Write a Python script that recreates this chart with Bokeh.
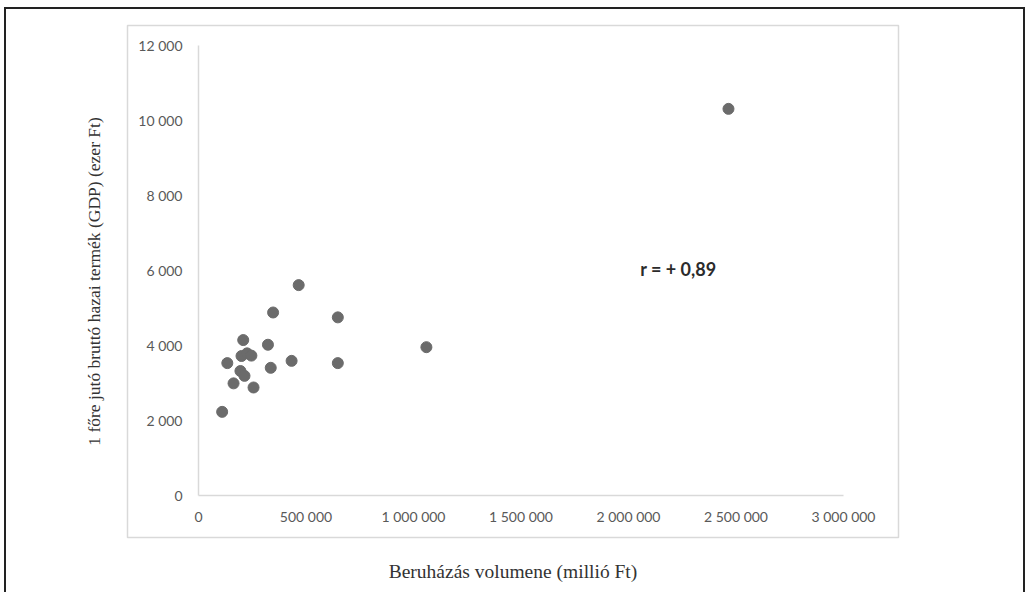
from bokeh.plotting import figure
from bokeh.models import Range1d, FixedTicker, LinearAxis, Label, ColumnDataSource, InlineStyleSheet
from bokeh.embed import file_html
from bokeh.resources import INLINE

# ---- data ----
invest = [466000, 347000, 648000, 208000, 323000, 1060000, 134000,
          200000, 226000, 246000, 433000, 648000, 336000, 195000,
          214000, 163000, 256000, 110000, 2465000]
gdp = [5610, 4880, 4750, 4145, 4020, 3955, 3530,
       3720, 3790, 3730, 3590, 3530, 3405, 3320,
       3190, 2990, 2880, 2230, 10310]

x_ticks = [0, 500000, 1000000, 1500000, 2000000, 2500000, 3000000]
x_tick_labels = ["0", "500 000", "1 000 000", "1 500 000", "2 000 000", "2 500 000", "3 000 000"]
y_ticks = [0, 2000, 4000, 6000, 8000, 10000, 12000]
y_tick_labels = ["0", "2 000", "4 000", "6 000", "8 000", "10 000", "12 000"]

x_title = "Beruházás volumene (millió Ft)"
y_title = "1 főre jutó bruttó hazai termék (GDP) (ezer Ft)"
r_text = "r = + 0,89"
r_x, r_y = 2232000, 6050

# ---- figure ----
W, H = 1026, 592
p = figure(width=W, height=H, output_backend="svg", toolbar_location=None,
           x_range=Range1d(-330233, 3255814), y_range=Range1d(-1120, 12533.3),
           min_border_left=127, min_border_right=128, min_border_top=25, min_border_bottom=55)

p.xgrid.visible = False
p.ygrid.visible = False
p.outline_line_color = "#d9d9d9"
p.outline_line_width = 1.5
p.background_fill_color = "white"
p.border_fill_color = "white"

AX = "#d9d9d9"
LBL = "#595959"

xa = p.xaxis[0]
xa.fixed_location = 0
xa.bounds = (0, 3000000)
xa.ticker = FixedTicker(ticks=x_ticks)
xa.major_label_overrides = dict(zip(x_ticks, x_tick_labels))
ya = p.yaxis[0]
ya.fixed_location = 0
ya.bounds = (0, 12000)
ya.ticker = FixedTicker(ticks=y_ticks)
ya.major_label_overrides = dict(zip(y_ticks, y_tick_labels))
for a in (xa, ya):
    a.axis_line_color = AX
    a.axis_line_width = 1.5
    a.major_tick_line_color = None
    a.minor_tick_line_color = None
    a.major_label_text_font = "Lato"
    a.major_label_text_font_size = "14px"
    a.major_label_text_color = LBL
xa.major_label_standoff = 7
ya.major_label_standoff = 10

# title-only axes outside the grey box
tx = LinearAxis(ticker=FixedTicker(ticks=[]), axis_label=x_title)
ty = LinearAxis(ticker=FixedTicker(ticks=[]), axis_label=y_title)
for a, so, fs in ((tx, 23, "19.5px"), (ty, 24, "17.5px")):
    a.axis_line_color = None
    a.major_tick_line_color = None
    a.minor_tick_line_color = None
    a.major_tick_out = 0
    a.major_tick_in = 0
    a.major_label_standoff = 0
    a.axis_label_standoff = so
    a.axis_label_text_font = "Liberation Serif"
    a.axis_label_text_font_size = fs
    a.axis_label_text_font_style = "normal"
    a.axis_label_text_color = "#333333"
p.add_layout(tx, "below")
p.add_layout(ty, "left")

src = ColumnDataSource(dict(x=invest, y=gdp))
p.scatter("x", "y", source=src, size=11, fill_color="#6b6b6b", line_color="#6b6b6b")

p.add_layout(Label(x=r_x, y=r_y, text=r_text, text_align="center", text_baseline="middle",
                   text_font="Lato", text_font_style="bold", text_font_size="18px",
                   text_color="#2b2b2b"))

# outer dark frame (page border around the figure), drawn with CSS over the canvas
p.stylesheets = [InlineStyleSheet(css="""
:host { position: relative; }
:host::after {
  content: ""; position: absolute; left: 4px; top: 7px; width: 1021px; height: 585px;
  border: 2px solid #222; border-bottom: none; box-sizing: border-box; pointer-events: none;
}
""")]

open("out.html", "w").write(file_html(p, INLINE))
